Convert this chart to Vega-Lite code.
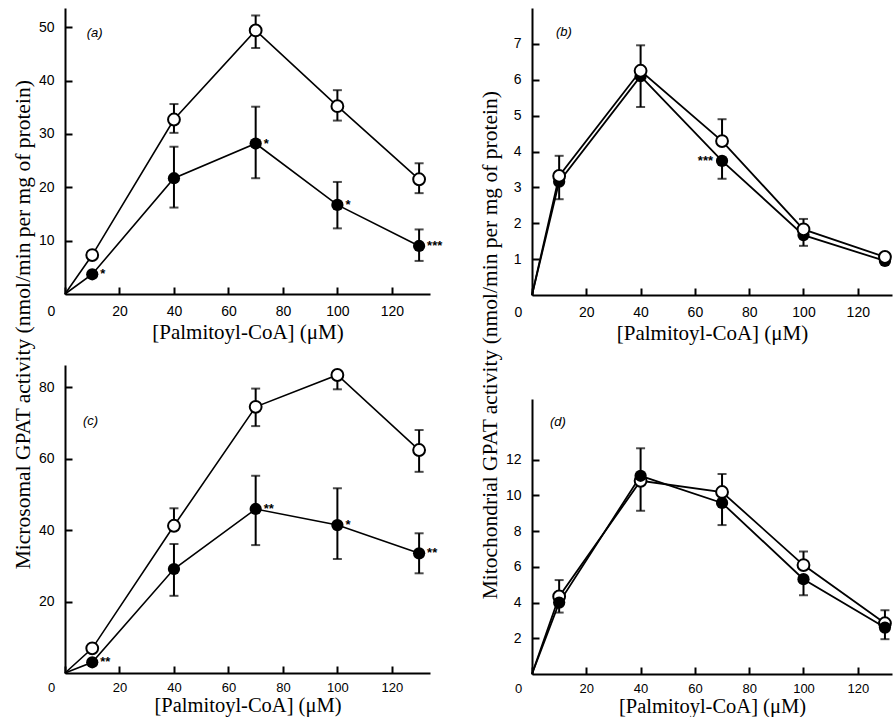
{
  "$schema": "https://vega.github.io/schema/vega-lite/v6.json",
  "padding": {"left": 12, "top": 8, "right": 0, "bottom": 0},
  "background": "white",
  "config": {
    "view": {"stroke": null},
    "axis": {
      "domainColor": "black", "domainWidth": 2,
      "tickColor": "black", "tickWidth": 2, "tickSize": -7,
      "labelFont": "Liberation Sans", "labelFontSize": 14, "labelColor": "black",
      "labelOverlap": false, "labelFlush": false,
      "grid": false, "minExtent": 0,
      "titleFont": "Liberation Serif", "titleFontSize": 21, "titleFontWeight": "normal", "titleColor": "black"
    },
    "axisX": {"labelPadding": 17, "titlePadding": 3},
    "axisY": {"labelPadding": 18},
    "title": {"font": "Liberation Serif", "fontSize": 21.5, "fontWeight": "normal", "color": "black"}
  },
  "datasets": {
    "pts": [
      {"panel": "a", "series": "control", "x": 0, "y": 0},
      {"panel": "a", "series": "control", "x": 10, "y": 7.3, "lo": 7.3, "hi": 7.3, "sig": ""},
      {"panel": "a", "series": "control", "x": 40, "y": 32.7, "lo": 30.2, "hi": 35.6, "sig": ""},
      {"panel": "a", "series": "control", "x": 70, "y": 49.4, "lo": 46.1, "hi": 52.2, "sig": ""},
      {"panel": "a", "series": "control", "x": 100, "y": 35.2, "lo": 32.5, "hi": 38.2, "sig": ""},
      {"panel": "a", "series": "control", "x": 130, "y": 21.5, "lo": 18.9, "hi": 24.5, "sig": ""},
      {"panel": "a", "series": "treated", "x": 0, "y": 0},
      {"panel": "a", "series": "treated", "x": 10, "y": 3.7, "lo": 3.7, "hi": 3.7, "sig": "*", "side": "right"},
      {"panel": "a", "series": "treated", "x": 40, "y": 21.7, "lo": 16.2, "hi": 27.6, "sig": ""},
      {"panel": "a", "series": "treated", "x": 70, "y": 28.2, "lo": 21.7, "hi": 35.1, "sig": "*", "side": "right"},
      {"panel": "a", "series": "treated", "x": 100, "y": 16.7, "lo": 12.3, "hi": 21.0, "sig": "*", "side": "right"},
      {"panel": "a", "series": "treated", "x": 130, "y": 9.0, "lo": 6.2, "hi": 12.1, "sig": "***", "side": "right"},

      {"panel": "b", "series": "control", "x": 0, "y": 0},
      {"panel": "b", "series": "control", "x": 10, "y": 3.32, "lo": 3.32, "hi": 3.88, "sig": ""},
      {"panel": "b", "series": "control", "x": 40, "y": 6.25, "lo": 6.25, "hi": 6.96, "sig": ""},
      {"panel": "b", "series": "control", "x": 70, "y": 4.29, "lo": 4.29, "hi": 4.9, "sig": ""},
      {"panel": "b", "series": "control", "x": 100, "y": 1.83, "lo": 1.83, "hi": 2.12, "sig": ""},
      {"panel": "b", "series": "control", "x": 130, "y": 1.06, "lo": 1.06, "hi": 1.06, "sig": ""},
      {"panel": "b", "series": "treated", "x": 0, "y": 0},
      {"panel": "b", "series": "treated", "x": 10, "y": 3.16, "lo": 2.67, "hi": 3.16, "sig": ""},
      {"panel": "b", "series": "treated", "x": 40, "y": 6.1, "lo": 5.24, "hi": 6.1, "sig": ""},
      {"panel": "b", "series": "treated", "x": 70, "y": 3.74, "lo": 3.24, "hi": 3.74, "sig": "***", "side": "left"},
      {"panel": "b", "series": "treated", "x": 100, "y": 1.67, "lo": 1.37, "hi": 1.67, "sig": ""},
      {"panel": "b", "series": "treated", "x": 130, "y": 0.95, "lo": 0.95, "hi": 0.95, "sig": ""},

      {"panel": "c", "series": "control", "x": 0, "y": 0},
      {"panel": "c", "series": "control", "x": 10, "y": 6.9, "lo": 6.9, "hi": 6.9, "sig": ""},
      {"panel": "c", "series": "control", "x": 40, "y": 41.2, "lo": 41.2, "hi": 46.1, "sig": ""},
      {"panel": "c", "series": "control", "x": 70, "y": 74.5, "lo": 69.1, "hi": 79.6, "sig": ""},
      {"panel": "c", "series": "control", "x": 100, "y": 83.4, "lo": 79.4, "hi": 83.4, "sig": ""},
      {"panel": "c", "series": "control", "x": 130, "y": 62.4, "lo": 56.3, "hi": 68.0, "sig": ""},
      {"panel": "c", "series": "treated", "x": 0, "y": 0},
      {"panel": "c", "series": "treated", "x": 10, "y": 3.0, "lo": 3.0, "hi": 3.0, "sig": "**", "side": "right"},
      {"panel": "c", "series": "treated", "x": 40, "y": 29.1, "lo": 21.6, "hi": 36.1, "sig": ""},
      {"panel": "c", "series": "treated", "x": 70, "y": 45.9, "lo": 35.8, "hi": 55.2, "sig": "**", "side": "right"},
      {"panel": "c", "series": "treated", "x": 100, "y": 41.4, "lo": 31.9, "hi": 51.7, "sig": "*", "side": "right"},
      {"panel": "c", "series": "treated", "x": 130, "y": 33.5, "lo": 27.9, "hi": 39.1, "sig": "**", "side": "right"},

      {"panel": "d", "series": "control", "x": 0, "y": 0},
      {"panel": "d", "series": "control", "x": 10, "y": 4.34, "lo": 4.34, "hi": 5.26, "sig": ""},
      {"panel": "d", "series": "control", "x": 40, "y": 10.82, "lo": 9.14, "hi": 10.82, "sig": ""},
      {"panel": "d", "series": "control", "x": 70, "y": 10.19, "lo": 10.19, "hi": 11.2, "sig": ""},
      {"panel": "d", "series": "control", "x": 100, "y": 6.1, "lo": 6.1, "hi": 6.86, "sig": ""},
      {"panel": "d", "series": "control", "x": 130, "y": 2.84, "lo": 2.84, "hi": 3.57, "sig": ""},
      {"panel": "d", "series": "treated", "x": 0, "y": 0},
      {"panel": "d", "series": "treated", "x": 10, "y": 4.0, "lo": 3.44, "hi": 4.0, "sig": ""},
      {"panel": "d", "series": "treated", "x": 40, "y": 11.1, "lo": 11.1, "hi": 12.64, "sig": ""},
      {"panel": "d", "series": "treated", "x": 70, "y": 9.58, "lo": 8.34, "hi": 9.58, "sig": ""},
      {"panel": "d", "series": "treated", "x": 100, "y": 5.31, "lo": 4.41, "hi": 5.31, "sig": ""},
      {"panel": "d", "series": "treated", "x": 130, "y": 2.6, "lo": 1.95, "hi": 2.6, "sig": ""}
    ],
    "labels": [
      {"panel": "a", "x": 8, "y": 49, "text": "(a)"},
      {"panel": "b", "x": 8.8, "y": 7.33, "text": "(b)"},
      {"panel": "c", "x": 6.6, "y": 70.5, "text": "(c)"},
      {"panel": "d", "x": 6.6, "y": 14.1, "text": "(d)"}
    ]
  },
  "hconcat": [
    {
      "title": {"text": "Microsomal GPAT activity (nmol/min per mg of protein)", "orient": "left", "anchor": "middle", "offset": 4, "dx": 37},
      "spacing": 23,
      "vconcat": [
        {
          "width": 365, "height": 286,
          "layer": [
            {"data": {"name": "pts"}, "transform": [{"filter": "datum.panel === 'a' && datum.x > 0"}],
             "mark": {"type": "errorbar", "color": "black", "thickness": 2, "ticks": {"size": 9, "thickness": 2}},
             "encoding": {"x": {"field": "x", "type": "quantitative", "scale": {"domain": [0, 134], "nice": false}, "axis": {"values": [0, 20, 40, 60, 80, 100, 120], "title": "[Palmitoyl-CoA] (μM)", "labelOffset": {"condition": {"test": "datum.value === 0", "value": -14}, "value": 0}}},
                          "y": {"field": "lo", "type": "quantitative", "scale": {"domain": [0, 53.6], "nice": false}, "axis": {"values": [10, 20, 30, 40, 50], "title": null}},
                          "y2": {"field": "hi"}}},
            {"data": {"name": "pts"}, "transform": [{"filter": "datum.panel === 'a'"}],
             "mark": {"type": "line", "color": "black", "strokeWidth": 1.6},
             "encoding": {"x": {"field": "x", "type": "quantitative"}, "y": {"field": "y", "type": "quantitative"}, "detail": {"field": "series"}, "order": {"field": "x"}}},
            {"data": {"name": "pts"}, "transform": [{"filter": "datum.panel === 'a' && datum.x > 0 && datum.series === 'treated'"}],
             "mark": {"type": "point", "shape": "circle", "filled": true, "color": "black", "size": 150, "opacity": 1},
             "encoding": {"x": {"field": "x", "type": "quantitative"}, "y": {"field": "y", "type": "quantitative"}}},
            {"data": {"name": "pts"}, "transform": [{"filter": "datum.panel === 'a' && datum.x > 0 && datum.series === 'control'"}],
             "mark": {"type": "point", "shape": "circle", "filled": true, "fill": "white", "stroke": "black", "strokeWidth": 2, "size": 140, "opacity": 1},
             "encoding": {"x": {"field": "x", "type": "quantitative"}, "y": {"field": "y", "type": "quantitative"}}},
            {"data": {"name": "pts"}, "transform": [{"filter": "datum.panel === 'a' && datum.side === 'right'"}],
             "mark": {"type": "text", "align": "left", "baseline": "middle", "dx": 8, "dy": 0, "font": "Liberation Sans", "fontSize": 13, "fontWeight": "bold", "color": "black"},
             "encoding": {"x": {"field": "x", "type": "quantitative"}, "y": {"field": "y", "type": "quantitative"}, "text": {"field": "sig"}}},
            {"data": {"name": "labels"}, "transform": [{"filter": "datum.panel === 'a'"}],
             "mark": {"type": "text", "align": "left", "baseline": "middle", "font": "Liberation Sans", "fontSize": 13, "fontStyle": "italic", "color": "black"},
             "encoding": {"x": {"field": "x", "type": "quantitative"}, "y": {"field": "y", "type": "quantitative"}, "text": {"field": "text"}}}
          ]
        },
        {
          "width": 365, "height": 308,
          "layer": [
            {"data": {"name": "pts"}, "transform": [{"filter": "datum.panel === 'c' && datum.x > 0"}],
             "mark": {"type": "errorbar", "color": "black", "thickness": 2, "ticks": {"size": 9, "thickness": 2}},
             "encoding": {"x": {"field": "x", "type": "quantitative", "scale": {"domain": [0, 134], "nice": false}, "axis": {"values": [0, 20, 40, 60, 80, 100, 120], "title": "[Palmitoyl-CoA] (μM)", "labelFontSize": 13, "labelPadding": 15, "titlePadding": 1, "titleFontSize": 20.5, "labelOffset": {"condition": {"test": "datum.value === 0", "value": -14}, "value": 0}}},
                          "y": {"field": "lo", "type": "quantitative", "scale": {"domain": [0, 86.2], "nice": false}, "axis": {"values": [20, 40, 60, 80], "title": null}},
                          "y2": {"field": "hi"}}},
            {"data": {"name": "pts"}, "transform": [{"filter": "datum.panel === 'c'"}],
             "mark": {"type": "line", "color": "black", "strokeWidth": 1.6},
             "encoding": {"x": {"field": "x", "type": "quantitative"}, "y": {"field": "y", "type": "quantitative"}, "detail": {"field": "series"}, "order": {"field": "x"}}},
            {"data": {"name": "pts"}, "transform": [{"filter": "datum.panel === 'c' && datum.x > 0 && datum.series === 'treated'"}],
             "mark": {"type": "point", "shape": "circle", "filled": true, "color": "black", "size": 150, "opacity": 1},
             "encoding": {"x": {"field": "x", "type": "quantitative"}, "y": {"field": "y", "type": "quantitative"}}},
            {"data": {"name": "pts"}, "transform": [{"filter": "datum.panel === 'c' && datum.x > 0 && datum.series === 'control'"}],
             "mark": {"type": "point", "shape": "circle", "filled": true, "fill": "white", "stroke": "black", "strokeWidth": 2, "size": 140, "opacity": 1},
             "encoding": {"x": {"field": "x", "type": "quantitative"}, "y": {"field": "y", "type": "quantitative"}}},
            {"data": {"name": "pts"}, "transform": [{"filter": "datum.panel === 'c' && datum.side === 'right'"}],
             "mark": {"type": "text", "align": "left", "baseline": "middle", "dx": 8, "dy": 0, "font": "Liberation Sans", "fontSize": 13, "fontWeight": "bold", "color": "black"},
             "encoding": {"x": {"field": "x", "type": "quantitative"}, "y": {"field": "y", "type": "quantitative"}, "text": {"field": "sig"}}},
            {"data": {"name": "labels"}, "transform": [{"filter": "datum.panel === 'c'"}],
             "mark": {"type": "text", "align": "left", "baseline": "middle", "font": "Liberation Sans", "fontSize": 13, "fontStyle": "italic", "color": "black"},
             "encoding": {"x": {"field": "x", "type": "quantitative"}, "y": {"field": "y", "type": "quantitative"}, "text": {"field": "text"}}}
          ]
        }
      ]
    },
    {
      "title": {"text": "Mitochondrial GPAT activity (nmol/min per mg of protein)", "orient": "left", "anchor": "middle", "offset": 4, "dx": 17},
      "spacing": 56,
      "vconcat": [
        {
          "width": 360, "height": 287,
          "layer": [
            {"data": {"name": "pts"}, "transform": [{"filter": "datum.panel === 'b' && datum.x > 0"}],
             "mark": {"type": "errorbar", "color": "black", "thickness": 2, "ticks": {"size": 9, "thickness": 2}},
             "encoding": {"x": {"field": "x", "type": "quantitative", "scale": {"domain": [0, 132.6], "nice": false}, "axis": {"values": [0, 20, 40, 60, 80, 100, 120], "title": "[Palmitoyl-CoA] (μM)", "labelOffset": {"condition": {"test": "datum.value === 0", "value": -14}, "value": 0}}},
                          "y": {"field": "lo", "type": "quantitative", "scale": {"domain": [0, 8], "nice": false}, "axis": {"values": [1, 2, 3, 4, 5, 6, 7], "title": null}},
                          "y2": {"field": "hi"}}},
            {"data": {"name": "pts"}, "transform": [{"filter": "datum.panel === 'b'"}],
             "mark": {"type": "line", "color": "black", "strokeWidth": 1.8},
             "encoding": {"x": {"field": "x", "type": "quantitative"}, "y": {"field": "y", "type": "quantitative"}, "detail": {"field": "series"}, "order": {"field": "x"}}},
            {"data": {"name": "pts"}, "transform": [{"filter": "datum.panel === 'b' && datum.x > 0 && datum.series === 'treated'"}],
             "mark": {"type": "point", "shape": "circle", "filled": true, "color": "black", "size": 150, "opacity": 1},
             "encoding": {"x": {"field": "x", "type": "quantitative"}, "y": {"field": "y", "type": "quantitative"}}},
            {"data": {"name": "pts"}, "transform": [{"filter": "datum.panel === 'b' && datum.x > 0 && datum.series === 'control'"}],
             "mark": {"type": "point", "shape": "circle", "filled": true, "fill": "white", "stroke": "black", "strokeWidth": 2, "size": 140, "opacity": 1},
             "encoding": {"x": {"field": "x", "type": "quantitative"}, "y": {"field": "y", "type": "quantitative"}}},
            {"data": {"name": "pts"}, "transform": [{"filter": "datum.panel === 'b' && datum.side === 'left'"}],
             "mark": {"type": "text", "align": "right", "baseline": "middle", "dx": -9, "dy": 0, "font": "Liberation Sans", "fontSize": 13, "fontWeight": "bold", "color": "black"},
             "encoding": {"x": {"field": "x", "type": "quantitative"}, "y": {"field": "y", "type": "quantitative"}, "text": {"field": "sig"}}},
            {"data": {"name": "labels"}, "transform": [{"filter": "datum.panel === 'b'"}],
             "mark": {"type": "text", "align": "left", "baseline": "middle", "font": "Liberation Sans", "fontSize": 13, "fontStyle": "italic", "color": "black"},
             "encoding": {"x": {"field": "x", "type": "quantitative"}, "y": {"field": "y", "type": "quantitative"}, "text": {"field": "text"}}}
          ]
        },
        {
          "width": 360, "height": 275,
          "layer": [
            {"data": {"name": "pts"}, "transform": [{"filter": "datum.panel === 'd' && datum.x > 0"}],
             "mark": {"type": "errorbar", "color": "black", "thickness": 2, "ticks": {"size": 9, "thickness": 2}},
             "encoding": {"x": {"field": "x", "type": "quantitative", "scale": {"domain": [0, 132.6], "nice": false}, "axis": {"values": [0, 20, 40, 60, 80, 100, 120], "title": "[Palmitoyl-CoA] (μM)", "labelFontSize": 13, "labelPadding": 15, "titlePadding": 1, "titleFontSize": 20.5, "labelOffset": {"condition": {"test": "datum.value === 0", "value": -14}, "value": 0}}},
                          "y": {"field": "lo", "type": "quantitative", "scale": {"domain": [0, 15.4], "nice": false}, "axis": {"values": [2, 4, 6, 8, 10, 12], "title": null}},
                          "y2": {"field": "hi"}}},
            {"data": {"name": "pts"}, "transform": [{"filter": "datum.panel === 'd'"}],
             "mark": {"type": "line", "color": "black", "strokeWidth": 1.8},
             "encoding": {"x": {"field": "x", "type": "quantitative"}, "y": {"field": "y", "type": "quantitative"}, "detail": {"field": "series"}, "order": {"field": "x"}}},
            {"data": {"name": "pts"}, "transform": [{"filter": "datum.panel === 'd' && datum.x > 0 && datum.series === 'control'"}],
             "mark": {"type": "point", "shape": "circle", "filled": true, "fill": "white", "stroke": "black", "strokeWidth": 2, "size": 140, "opacity": 1},
             "encoding": {"x": {"field": "x", "type": "quantitative"}, "y": {"field": "y", "type": "quantitative"}}},
            {"data": {"name": "pts"}, "transform": [{"filter": "datum.panel === 'd' && datum.x > 0 && datum.series === 'treated'"}],
             "mark": {"type": "point", "shape": "circle", "filled": true, "color": "black", "size": 150, "opacity": 1},
             "encoding": {"x": {"field": "x", "type": "quantitative"}, "y": {"field": "y", "type": "quantitative"}}},
            {"data": {"name": "labels"}, "transform": [{"filter": "datum.panel === 'd'"}],
             "mark": {"type": "text", "align": "left", "baseline": "middle", "font": "Liberation Sans", "fontSize": 13, "fontStyle": "italic", "color": "black"},
             "encoding": {"x": {"field": "x", "type": "quantitative"}, "y": {"field": "y", "type": "quantitative"}, "text": {"field": "text"}}}
          ]
        }
      ]
    }
  ],
  "spacing": 36
}
